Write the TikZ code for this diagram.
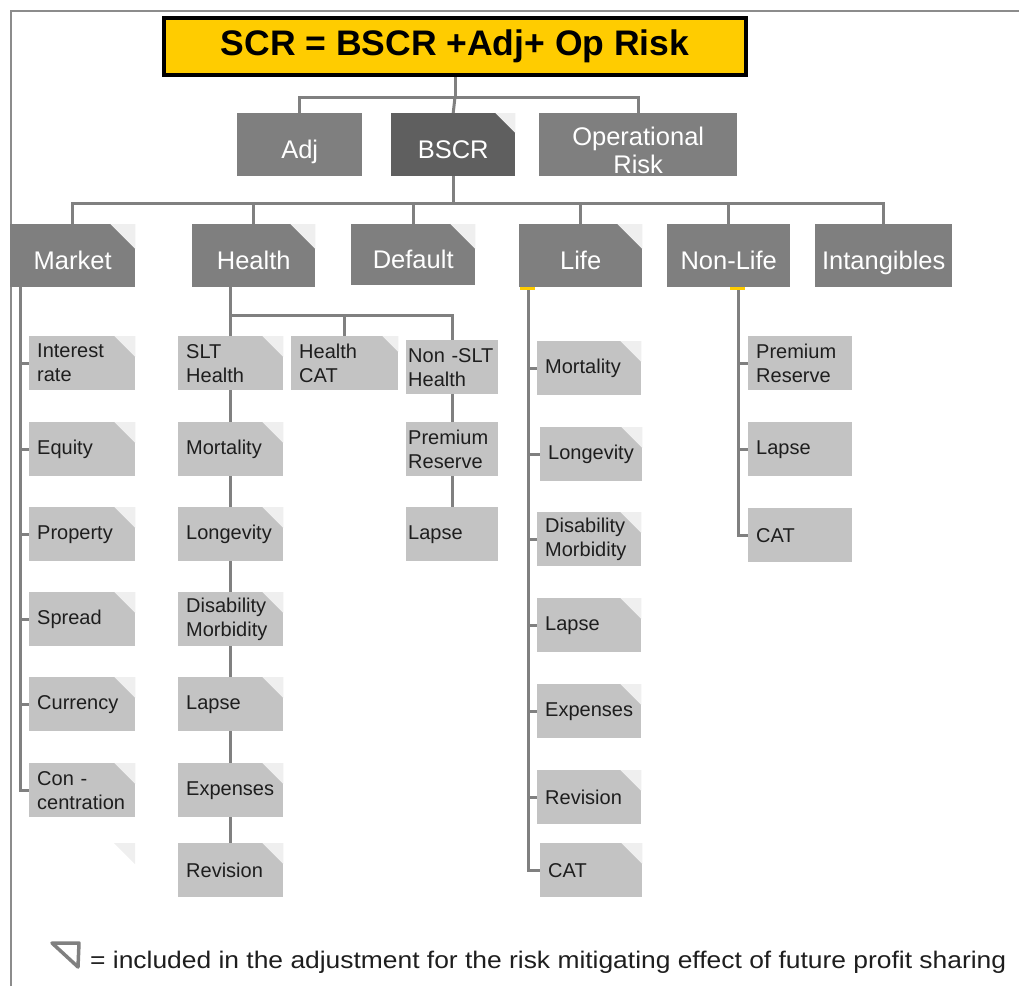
\documentclass[tikz,border=0pt]{standalone}
\usepackage{fontspec}
\setmainfont{Liberation Sans}
\newfontfamily\legendfont[FakeStretch=1.1]{Liberation Sans}

\definecolor{scryellow}{HTML}{FFCC00}
\definecolor{boxgray}{HTML}{7F7F7F}
\definecolor{bscrgray}{HTML}{5F5F5F}
\definecolor{leafgray}{HTML}{C3C3C3}
\definecolor{foldc}{HTML}{EFEFEF}
\definecolor{linegray}{HTML}{808080}
\definecolor{framec}{HTML}{8C8C8C}
\definecolor{txtdark}{HTML}{1E1E1E}

\tikzset{
  conn/.style={draw=linegray, line width=3pt},
  lvl/.style={anchor=north west, fill=boxgray, text=white, inner sep=0pt,
    minimum height=63, align=center, text height=33pt, text depth=5pt,
    font=\fontsize{25.5}{28}\selectfont},
  leaf/.style={anchor=north west, fill=leafgray, text=txtdark, inner xsep=8pt,
    inner ysep=0pt, minimum height=54, align=left, text width=#1,
    font=\fontsize{20}{24}\selectfont},
  leaf/.default=90pt
}

\begin{document}
\begin{tikzpicture}[x=1pt,y=-1pt]
\path[use as bounding box] (0,0) rectangle (1019,986);
\draw[framec, line width=1.5pt] (11,986) -- (11,11) -- (1019,11);
% top formula
\node[anchor=north west, fill=scryellow, draw=black, line width=4pt, inner sep=0pt,
  minimum width=582, minimum height=57, font=\fontsize{35.5}{40}\selectfont\bfseries]
  (scr) at (162,16) {SCR = BSCR +Adj+ Op Risk};
% second level
\node[lvl, minimum width=125] (adj) at (237,113) {Adj};
\node[lvl, minimum width=124, fill=bscrgray] (bscr) at (391,113) {BSCR};
\node[lvl, minimum width=198, text height=57pt, text depth=0pt] (oprisk) at (539,113) {Operational\\Risk};
% modules
\node[lvl, minimum width=125] (market) at (10,224) {Market};
\node[lvl, minimum width=123] (health) at (192,224) {Health};
\node[lvl, minimum width=124, minimum height=61] (default) at (351,224) {Default};
\node[lvl, minimum width=123] (life) at (519,224) {Life};
\node[lvl, minimum width=123] (nonlife) at (667,224) {Non-Life};
\node[lvl, minimum width=137] (intang) at (815,224) {Intangibles};
% market
\node[leaf] (ir) at (29,336) {Interest\\rate};
\node[leaf] (equity) at (29,422) {Equity};
\node[leaf] (property) at (29,507) {Property};
\node[leaf] (spread) at (29,592) {Spread};
\node[leaf] (currency) at (29,677) {Currency};
\node[leaf] (conc) at (29,763) {Con -\\centration};
% health
\node[leaf=89pt] (slt) at (178,336) {SLT\\Health};
\node[leaf=89pt] (hmort) at (178,422) {Mortality};
\node[leaf=89pt] (hlong) at (178,507) {Longevity};
\node[leaf=89pt] (hdis) at (178,592) {Disability\\Morbidity};
\node[leaf=89pt] (hlapse) at (178,677) {Lapse};
\node[leaf=89pt] (hexp) at (178,763) {Expenses};
\node[leaf=89pt] (hrev) at (178,843) {Revision};
\node[leaf=91pt] (hcat) at (291,336) {Health\\CAT};
\node[leaf=88pt, inner xsep=2pt] (nonslt) at (406,340) {Non -SLT\\Health};
\node[leaf=88pt, inner xsep=2pt] (hprem) at (406,422) {Premium\\Reserve};
\node[leaf=88pt, inner xsep=2pt] (hnlapse) at (406,507) {Lapse};
% life
\node[leaf=88pt] (lmort) at (537,341) {Mortality};
\node[leaf=86pt] (llong) at (540,427) {Longevity};
\node[leaf=88pt] (ldis) at (537,512) {Disability\\Morbidity};
\node[leaf=88pt] (llapse) at (537,598) {Lapse};
\node[leaf=88pt] (lexp) at (537,684) {Expenses};
\node[leaf=88pt] (lrev) at (537,770) {Revision};
\node[leaf=86pt] (lcat) at (540,843) {CAT};
% non-life
\node[leaf=88pt] (nprem) at (748,336) {Premium\\Reserve};
\node[leaf=88pt] (nlapse) at (748,422) {Lapse};
\node[leaf=88pt] (ncat) at (748,508) {CAT};
% folded corners
\foreach \n/\s in {bscr/20,market/25,health/25,default/25,life/25,
  ir/21,equity/21,property/21,spread/21,currency/21,conc/21,
  slt/21,hmort/21,hlong/21,hdis/21,hlapse/21,hexp/21,hrev/21,hcat/16,
  lmort/21,llong/21,ldis/21,llapse/21,lexp/21,lrev/21,lcat/21}
  \fill[foldc] (\n.north east) -- ++(-\s,0) -- ++(\s,\s) -- cycle;
\fill[foldc] (114,843) -- (135,843) -- (135,864) -- cycle;
% connectors
\draw[conn] (scr.south) -- ++(0,20) coordinate (topj) -| (adj.north);
\draw[conn] (topj) -| (oprisk.north);
\draw[conn] (topj) -- (bscr.north);
\draw[conn] (bscr.south) -- ++(0,27) coordinate (modj);
\foreach \n in {market,health,default,life,nonlife,intang}
  \draw[conn] (modj) -| (\n.north);
\foreach \n in {ir,equity,property,spread,currency,conc}
  \draw[conn] ([xshift=10]market.south west) |- (\n.west);
\draw[conn] (health.south -| slt.north) -- (slt.north);
\draw[conn] (health.south -| slt.north) -- ++(0,28) coordinate (hj) -| (hcat.north);
\draw[conn] (hj) -| (nonslt.north);
\foreach \a/\b in {slt/hmort,hmort/hlong,hlong/hdis,hdis/hlapse,hlapse/hexp,
  hexp/hrev,nonslt/hprem,hprem/hnlapse}
  \draw[conn] (\a.south) -- (\b.north);
\foreach \n in {lmort,llong,ldis,llapse,lexp,lrev,lcat}
  \draw[conn] ([xshift=9]life.south west) |- (\n.west);
\foreach \n in {nprem,nlapse,ncat}
  \draw[conn] ([xshift=71]nonlife.south west) |- (\n.west);
\fill[scryellow] ([xshift=1]life.south west) rectangle ++(15,3);
\fill[scryellow] ([xshift=63]nonlife.south west) rectangle ++(15,3);
% legend
\draw[linegray, line width=3.5pt, line join=round, fill=white] (52,943) -- (79,943) -- (78,967) -- cycle;
\node[anchor=base west, inner sep=0pt, text=txtdark, font=\legendfont\fontsize{24}{28}\selectfont]
  (legend) at (90,968) {= included in the adjustment for the risk mitigating effect of future profit sharing};
\end{tikzpicture}
\end{document}
